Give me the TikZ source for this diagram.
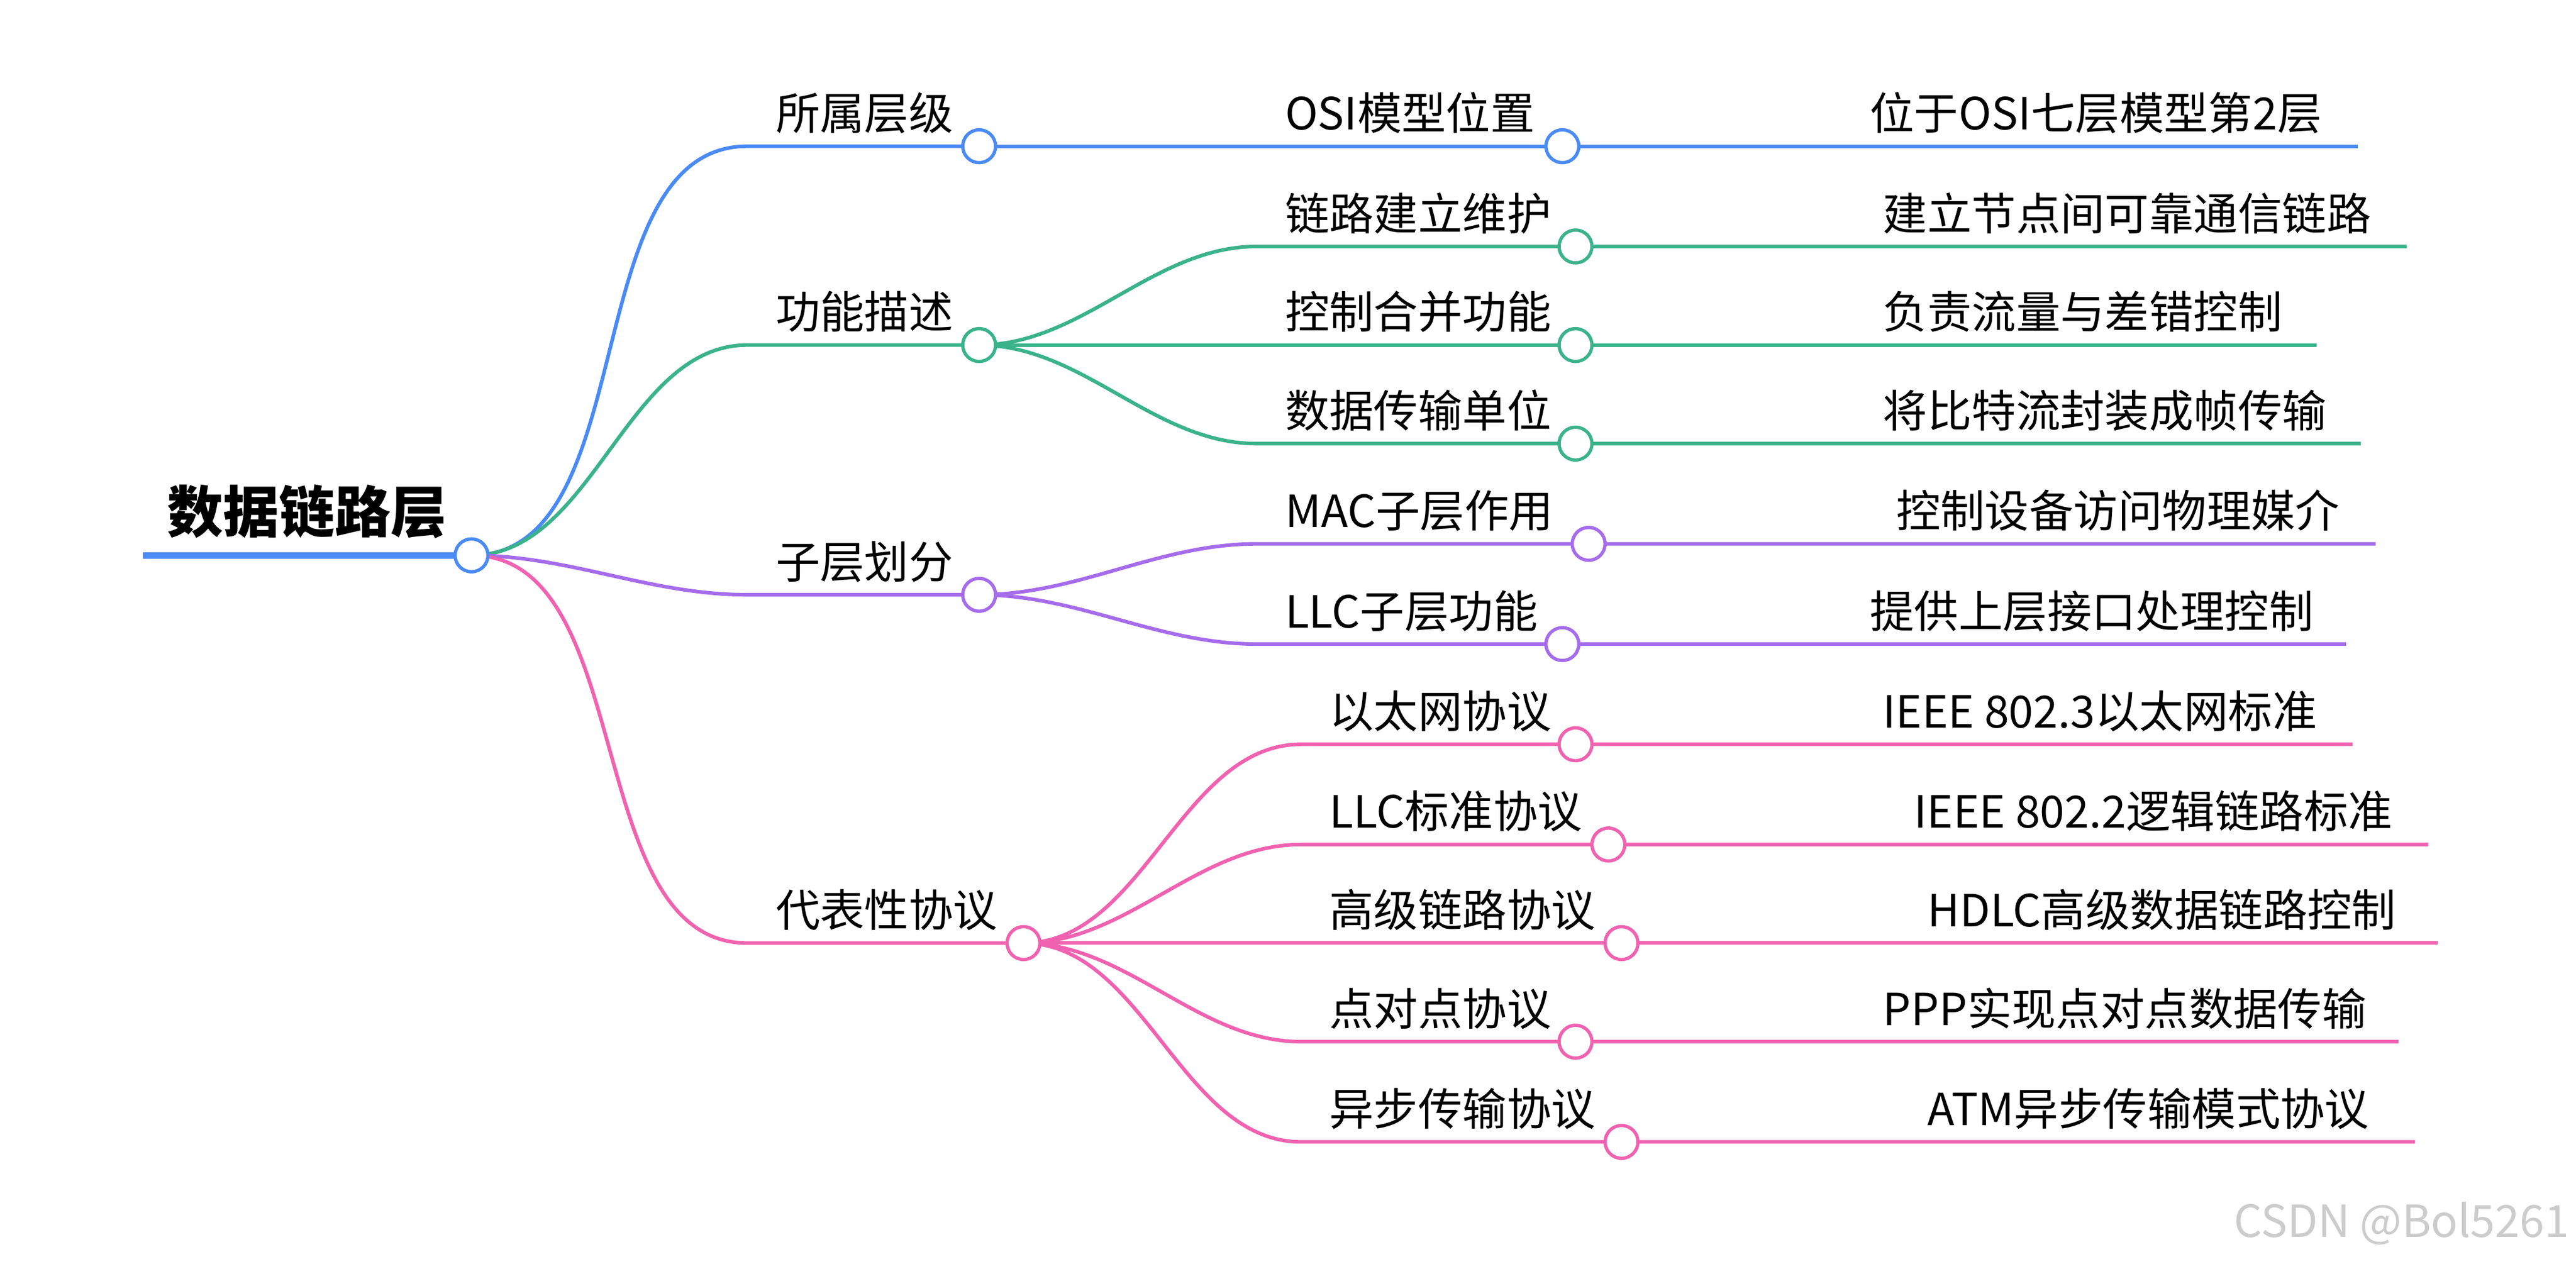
\documentclass[tikz,border=0pt]{standalone}
\usepackage{fontspec}
\setmainfont{Noto Sans CJK SC}
\definecolor{cb}{HTML}{4A8AF4}
\definecolor{cg}{HTML}{3BB38A}
\definecolor{cp}{HTML}{A56CEB}
\definecolor{ck}{HTML}{F062B0}
\begin{document}
\begin{tikzpicture}[x=1pt,y=-1pt,
  ln/.style={line width=2.2pt},
  dot/.style={circle,draw,line width=2pt,fill=white,minimum size=20pt,inner sep=0pt},
  lab/.style={anchor=base west,inner sep=0pt,font=\fontsize{27}{31}\selectfont}]
\useasboundingbox (0,0) rectangle (1568,769);
% root
\node[anchor=base,inner sep=0pt,font=\fontsize{34}{38}\selectfont\bfseries] (root) at (187,324) {数据链路层};
\coordinate (r0) at (87,338);
\coordinate (rc) at (287,338);
\draw[cb,line width=4pt] (r0) -- (rc);
% level 1
\foreach \n/\y/\cx/\c/\t in {a/89/596/cb/所属层级, b/210/596/cg/功能描述, c/362/596/cp/子层划分, d/574/623/ck/代表性协议}{
  \coordinate (\n j) at (455,\y);
  \coordinate (\n c) at (\cx,\y);
  \draw[ln,\c] (rc) to[out=0,in=180,looseness=0.9] (\n j) -- (\n c);
  \node[lab] (\n t) at (472,\y-10) {\t};
}
% level 2 and 3
\foreach \p/\n/\y/\j/\cx/\tx/\c/\t/\ex/\ux/\u in {
  a/a1/89/765/951/782/cb/OSI模型位置/1435/1138/位于OSI七层模型第2层,
  b/b1/150/765/959/782/cg/链路建立维护/1465/1146/建立节点间可靠通信链路,
  b/b2/210/765/959/782/cg/控制合并功能/1410/1146/负责流量与差错控制,
  b/b3/270/765/959/782/cg/数据传输单位/1437/1146/将比特流封装成帧传输,
  c/c1/331/765/967/782/cp/MAC子层作用/1446/1154/控制设备访问物理媒介,
  c/c2/392/765/951/782/cp/LLC子层功能/1428/1138/提供上层接口处理控制,
  d/d1/453/792/959/809/ck/以太网协议/1432/1146/IEEE 802.3以太网标准,
  d/d2/514/792/979/809/ck/LLC标准协议/1478/1165/IEEE 802.2逻辑链路标准,
  d/d3/574/792/987/809/ck/高级链路协议/1484/1173/HDLC高级数据链路控制,
  d/d4/634/792/959/809/ck/点对点协议/1460/1146/PPP实现点对点数据传输,
  d/d5/695/792/987/809/ck/异步传输协议/1470/1173/ATM异步传输模式协议}{
  \coordinate (\n j) at (\j,\y);
  \coordinate (\n c) at (\cx,\y);
  \coordinate (\n e) at (\ex,\y);
  \draw[ln,\c] (\p c) to[out=0,in=180,looseness=0.9] (\n j) -- (\n c) -- (\n e);
  \node[lab] (\n t) at (\tx,\y-10) {\t};
  \node[lab] (\n u) at (\ux,\y-10) {\u};
}
% circles
\foreach \n/\c in {a1/cb,b1/cg,b2/cg,b3/cg,c1/cp,c2/cp,d1/ck,d2/ck,d3/ck,d4/ck,d5/ck,a/cb,b/cg,c/cp,d/ck}{
  \node[dot,draw=\c] (\n o) at (\n c) {};
}
\node[dot,draw=cb] (ro) at (rc) {};
\node[anchor=base east,inner sep=0pt,text=gray!40,font=\fontsize{27}{31}\selectfont] (wm) at (1564,753) {CSDN @Bol5261};
\end{tikzpicture}
\end{document}
